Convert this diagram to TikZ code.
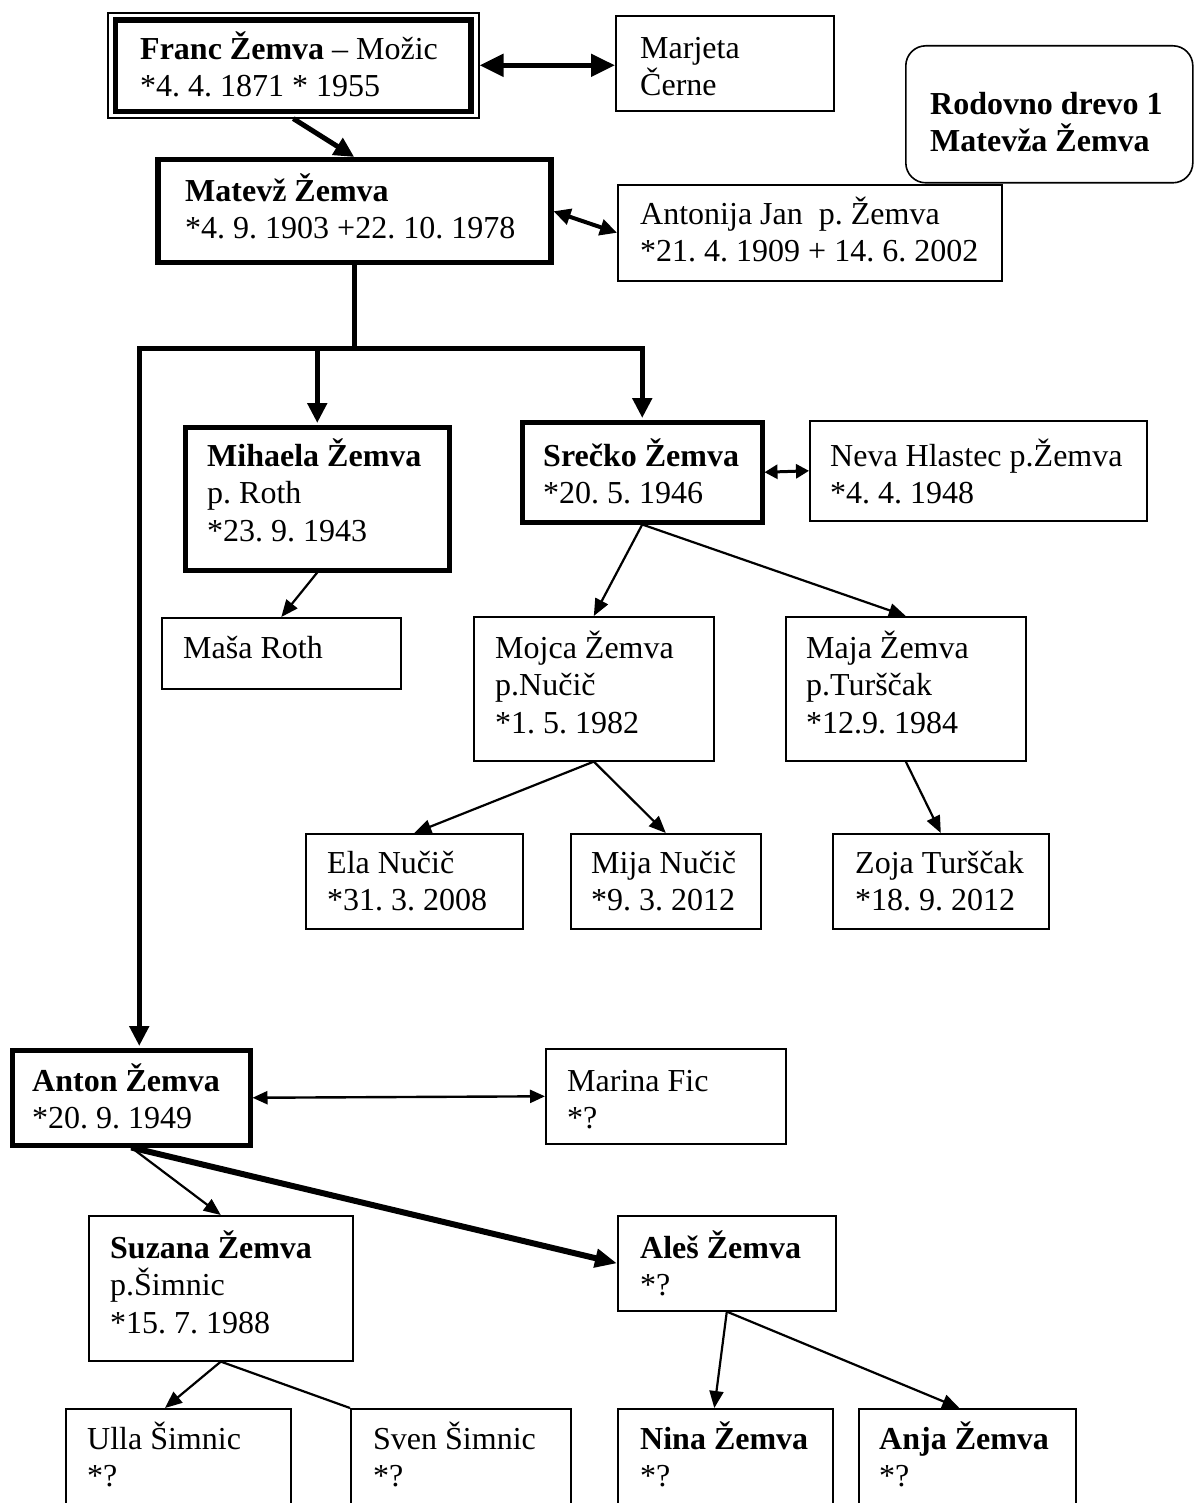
\documentclass[tikz,border=0pt]{standalone}
\usepackage{fontspec}
\setmainfont{Liberation Serif}
\usetikzlibrary{arrows.meta,calc}
\newcommand{\mystrut}{\rule{0pt}{32pt}}
\frenchspacing
\begin{document}
\begin{tikzpicture}[x=1pt,y=-1pt,
  pbox/.style={draw, line width=1.6pt, anchor=north west, inner sep=0pt},
  thickbox/.style={pbox, line width=4.5pt},
  txt/.style={anchor=north west, inner sep=0pt, align=left, font=\fontsize{32}{37.5}\selectfont\frenchspacing},
  con/.style={line width=2.2pt, line cap=butt, -{Triangle[length=17pt,width=14pt]}},
  dcon/.style={line width=2.4pt, {Triangle[length=15pt,width=13pt]}-{Triangle[length=15pt,width=13pt]}},
  bigarr/.style={line width=5pt, -{Triangle[length=20pt,width=19pt]}},
]
\useasboundingbox (0,0) rectangle (1194,1503);
\clip (0,0) rectangle (1194,1503);

% ---------- boxes ----------
\node[pbox, minimum width=371pt, minimum height=105pt] (franc) at (107,12) {};
\draw[line width=5.6pt] ($(franc.north west)+(8.5,8)$) coordinate (fin1) rectangle ($(franc.south east)+(-8.5,-7)$) coordinate (fin2);
\node[txt] (franct) at (140,27) {\mystrut\textbf{Franc Žemva} – Možic\\*4. 4. 1871 * 1955};

\node[pbox, minimum width=218pt, minimum height=95pt] (marjeta) at (615,15) {};
\node[txt] (marjetat) at (640,26) {\mystrut Marjeta\\Černe};

\node[pbox, rounded corners=20pt, minimum width=287pt, minimum height=137pt] (rodovno) at (905,45) {};
\node[txt, font=\fontsize{32}{37.5}\selectfont\bfseries] (rodovnot) at (930,82) {\mystrut Rodovno drevo 1\\Matevža Žemva};

\node[pbox, line width=5.5pt, minimum width=393pt, minimum height=103pt] (matevz) at (155,157) {};
\node[txt] (matevzt) at (185,169) {\mystrut\textbf{Matevž Žemva}\\*4. 9. 1903 +22. 10. 1978};

\node[pbox, minimum width=384pt, minimum height=96pt] (antonija) at (617,184) {};
\node[txt] (antonijat) at (640,192) {\mystrut Antonija Jan~ p. Žemva\\*21. 4. 1909 + 14. 6. 2002};

\node[thickbox, minimum width=264pt, minimum height=143pt] (mihaela) at (183,425) {};
\node[txt] (mihaelat) at (207,434) {\mystrut\textbf{Mihaela Žemva}\\p. Roth\\*23. 9. 1943};

\node[thickbox, minimum width=240pt, minimum height=100pt] (srecko) at (520,420) {};
\node[txt] (sreckot) at (543,434) {\mystrut\textbf{Srečko Žemva}\\*20. 5. 1946};

\node[pbox, minimum width=337pt, minimum height=100pt] (neva) at (809,420) {};
\node[txt] (nevat) at (830,434) {\mystrut Neva Hlastec p.Žemva\\*4. 4. 1948};

\node[pbox, minimum width=239pt, minimum height=71pt] (masa) at (161,617) {};
\node[txt] (masat) at (183,626) {\mystrut Maša Roth};

\node[pbox, minimum width=240pt, minimum height=144pt] (mojca) at (473,616) {};
\node[txt] (mojcat) at (495,626) {\mystrut Mojca Žemva\\p.Nučič\\*1. 5. 1982};

\node[pbox, minimum width=240pt, minimum height=144pt] (maja) at (785,616) {};
\node[txt] (majat) at (806,626) {\mystrut Maja Žemva\\p.Turščak\\*12.9. 1984};

\node[pbox, minimum width=217pt, minimum height=95pt] (ela) at (305,833) {};
\node[txt] (elat) at (327,841) {\mystrut Ela Nučič\\*31. 3. 2008};

\node[pbox, minimum width=190pt, minimum height=95pt] (mija) at (570,833) {};
\node[txt] (mijat) at (591,841) {\mystrut Mija Nučič\\*9. 3. 2012};

\node[pbox, minimum width=216pt, minimum height=95pt] (zoja) at (832,833) {};
\node[txt] (zojat) at (855,841) {\mystrut Zoja Turščak\\*18. 9. 2012};

\node[thickbox, minimum width=238pt, minimum height=95pt] (anton) at (10,1048) {};
\node[txt] (antont) at (32,1059) {\mystrut\textbf{Anton Žemva}\\*20. 9. 1949};

\node[pbox, minimum width=240pt, minimum height=95pt] (marina) at (545,1048) {};
\node[txt] (marinat) at (567,1059) {\mystrut Marina Fic\\*?};

\node[pbox, minimum width=264pt, minimum height=145pt] (suzana) at (88,1215) {};
\node[txt] (suzanat) at (110,1226) {\mystrut\textbf{Suzana Žemva}\\p.Šimnic\\*15. 7. 1988};

\node[pbox, minimum width=218pt, minimum height=95pt] (ales) at (617,1215) {};
\node[txt] (alest) at (640,1226) {\mystrut\textbf{Aleš Žemva}\\*?};

\node[pbox, minimum width=225pt, minimum height=120pt] (ulla) at (65,1408) {};
\node[txt] (ullat) at (87,1417) {\mystrut Ulla Šimnic\\*?};

\node[pbox, minimum width=220pt, minimum height=120pt] (sven) at (350,1408) {};
\node[txt] (svent) at (373,1417) {\mystrut Sven Šimnic\\*?};

\node[pbox, minimum width=215pt, minimum height=120pt] (nina) at (617,1408) {};
\node[txt] (ninat) at (640,1417) {\mystrut\textbf{Nina Žemva}\\*?};

\node[pbox, minimum width=217pt, minimum height=120pt] (anja) at (858,1408) {};
\node[txt] (anjat) at (879,1417) {\mystrut\textbf{Anja Žemva}\\*?};

% ---------- connectors ----------
\draw[line width=5pt, {Triangle[length=24pt,width=22pt]}-{Triangle[length=24pt,width=22pt]}]
  (franc.east) -- (marjeta.west |- franc.east);
\draw[bigarr] (franc.south) -- (matevz.north);
\draw[line width=4pt, {Triangle[length=17pt,width=16pt]}-{Triangle[length=17pt,width=16pt]}]
  (matevz.east) -- (antonija.west);

\coordinate (bar) at ($(matevz.south)+(0,83)$);
\coordinate (antontop) at ($(anton.north)+(8,-2)$);
\draw[line width=5pt, line cap=rect] (matevz.south) -- (bar);
\draw[line width=5pt, line cap=rect] (antontop |- bar) -- (srecko.north |- bar);
\draw[bigarr] (mihaela.north |- bar) -- ($(mihaela.north)+(0,-2)$);
\draw[bigarr] (srecko.north |- bar) -- ($(srecko.north)+(0,-2)$);
\draw[bigarr] (antontop |- bar) -- (antontop);

\draw[line width=3pt, {Triangle[length=13pt,width=14pt]}-{Triangle[length=13pt,width=14pt]}]
  (srecko.east) -- (neva.west);
\draw[con] (mihaela.south) -- (masa.north);
\draw[con] (srecko.south) -- (mojca.north);
\draw[con] (srecko.south) -- (maja.north);
\draw[con] (mojca.south) -- (ela.north);
\draw[con] (mojca.south) -- (mija.north);
\draw[con] (maja.south) -- (zoja.north);

\draw[dcon] (anton.east) -- (marina.west);
\draw[con] (anton.south) -- (suzana.north);
\draw[line width=6pt, -{Triangle[length=22pt,width=18pt]}] (anton.south) -- (ales.west);
\draw[con] (suzana.south) -- ($(ulla.north west)+(100,0)$);
\draw[line width=2.2pt] (suzana.south) -- (sven.north west);
\draw[con] (ales.south) -- ($(nina.north)+(-11,0)$);
\draw[con] (ales.south) -- ($(anja.north)+(-8,0)$);
\end{tikzpicture}
\end{document}
